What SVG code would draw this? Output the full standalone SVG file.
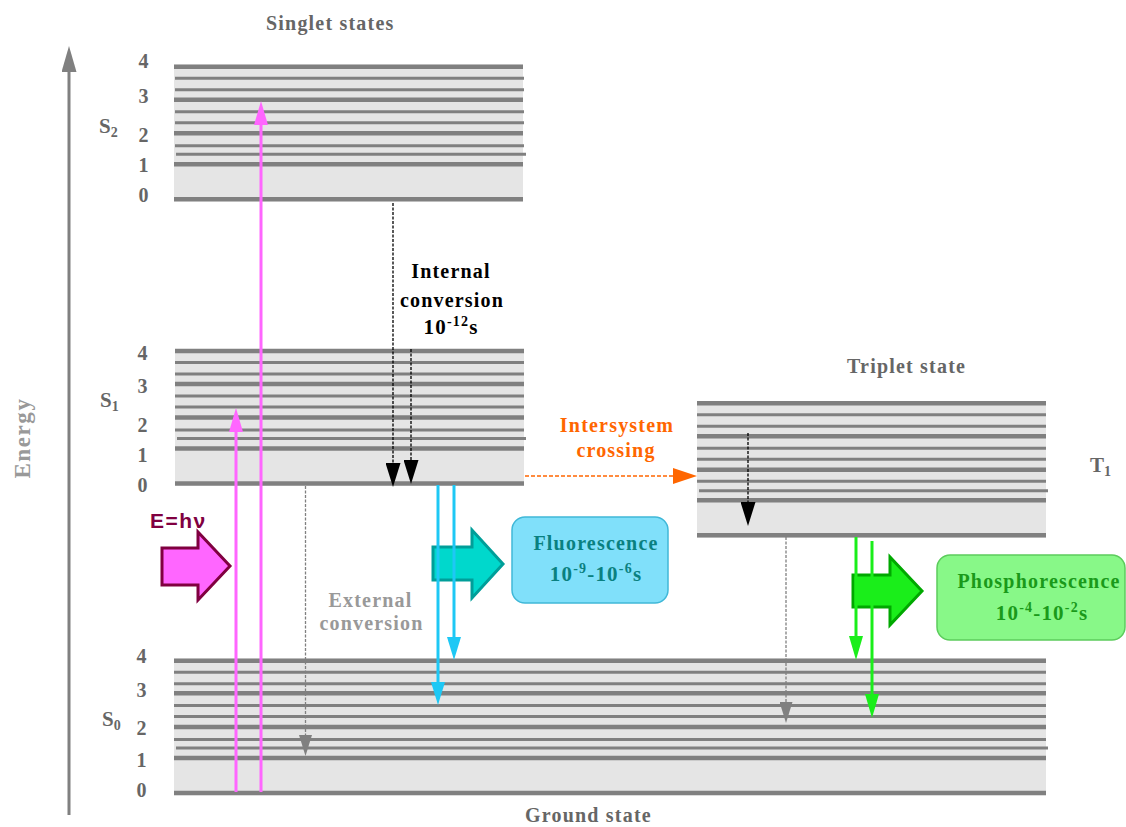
<svg xmlns="http://www.w3.org/2000/svg" width="1126" height="827" viewBox="0 0 1126 827">
<style>
.bg{fill:#e5e5e5}
.thk{stroke:#808080;stroke-width:4.5}
.thn{stroke:#808080;stroke-width:3}
.lbl{font-family:"Liberation Serif","Times New Roman",serif;font-weight:bold;font-size:20px;letter-spacing:1.2px;fill:#666}
.num{font-family:"Liberation Serif","Times New Roman",serif;font-weight:bold;font-size:20px;fill:#666;text-anchor:middle}
.sub{font-size:14px}
.mid{text-anchor:middle}
</style>
<defs>
<marker id="hPink" markerUnits="userSpaceOnUse" viewBox="0 0 24 14" markerWidth="24" markerHeight="14" refX="0" refY="7" orient="auto"><path d="M0,0 L24,7 L0,14z" fill="#ff66ff"/></marker>
<marker id="hCyan" markerUnits="userSpaceOnUse" viewBox="0 0 23 14" markerWidth="23" markerHeight="14" refX="0" refY="7" orient="auto"><path d="M0,0 L23,7 L0,14z" fill="#1ec8f5"/></marker>
<marker id="hGreen" markerUnits="userSpaceOnUse" viewBox="0 0 24 14" markerWidth="24" markerHeight="14" refX="0" refY="7" orient="auto"><path d="M0,0 L24,7 L0,14z" fill="#1aee1a"/></marker>
<marker id="hBlack" markerUnits="userSpaceOnUse" viewBox="0 0 24 15" markerWidth="24" markerHeight="15" refX="0" refY="7.5" orient="auto"><path d="M0,0 L24,7.5 L0,15z" fill="#000"/></marker>
<marker id="hGray" markerUnits="userSpaceOnUse" viewBox="0 0 21 13" markerWidth="21" markerHeight="13" refX="0" refY="6.5" orient="auto"><path d="M0,0 L21,6.5 L0,13z" fill="#808080"/></marker>
<marker id="hOrange" markerUnits="userSpaceOnUse" viewBox="0 0 24 16" markerWidth="24" markerHeight="16" refX="0" refY="8" orient="auto"><path d="M0,0 L24,8 L0,16z" fill="#ff6600"/></marker>
<marker id="hAxis" markerUnits="userSpaceOnUse" viewBox="0 0 26 15" markerWidth="26" markerHeight="15" refX="0" refY="7.5" orient="auto"><path d="M0,0 L26,7.5 L0,15z" fill="#808080"/></marker>
</defs>

<!-- Energy axis -->
<g id="energy-axis">
<line x1="69" y1="815" x2="69" y2="72" stroke="#808080" stroke-width="3" marker-end="url(#hAxis)"/>
<text class="lbl mid" transform="translate(30,438) rotate(-90)" style="font-size:23px;letter-spacing:1.6px;fill:#999">Energy</text>
</g>

<!-- S2 -->
<g id="S2">
<rect class="bg" x="174" y="64.7" width="349" height="136.5"/>
<g>
<line class="thk" x1="174" x2="523" y1="66.7" y2="66.7"/>
<line class="thn" x1="175" x2="524" y1="78.2" y2="78.2"/>
<line class="thn" x1="175" x2="524" y1="89.7" y2="89.7"/>
<line class="thk" x1="174" x2="523" y1="99.7" y2="99.7"/>
<line class="thn" x1="175" x2="524" y1="111.7" y2="111.7"/>
<line class="thn" x1="175" x2="524" y1="122.7" y2="122.7"/>
<line class="thk" x1="174" x2="523" y1="133.2" y2="133.2"/>
<line class="thn" x1="175" x2="524" y1="145.7" y2="145.7"/>
<line class="thn" x1="176" x2="526" y1="154.2" y2="154.2"/>
<line class="thk" x1="174" x2="523" y1="164.2" y2="164.2"/>
<line class="thk" x1="174" x2="523" y1="199.2" y2="199.2"/>
</g>
<text class="num" x="143.5" y="68">4</text>
<text class="num" x="143.5" y="103">3</text>
<text class="num" x="143.5" y="142">2</text>
<text class="num" x="143.5" y="171.5">1</text>
<text class="num" x="143.5" y="201.5">0</text>
<text class="lbl" x="99" y="133" style="letter-spacing:0;font-size:21px">S<tspan class="sub" dy="4">2</tspan></text>
</g>

<!-- S1 -->
<g id="S1">
<rect class="bg" x="175" y="349" width="349" height="136.5"/>
<g>
<line class="thk" x1="175" x2="524" y1="351" y2="351"/>
<line class="thn" x1="175" x2="524" y1="362.5" y2="362.5"/>
<line class="thn" x1="175" x2="524" y1="374" y2="374"/>
<line class="thk" x1="175" x2="524" y1="384" y2="384"/>
<line class="thn" x1="175" x2="524" y1="396" y2="396"/>
<line class="thn" x1="175" x2="524" y1="407" y2="407"/>
<line class="thk" x1="175" x2="524" y1="417.5" y2="417.5"/>
<line class="thn" x1="175" x2="524" y1="430" y2="430"/>
<line class="thn" x1="177" x2="526" y1="438.5" y2="438.5"/>
<line class="thk" x1="175" x2="524" y1="448.5" y2="448.5"/>
<line class="thk" x1="175" x2="524" y1="483.5" y2="483.5"/>
</g>
<text class="num" x="142.5" y="360">4</text>
<text class="num" x="142.5" y="393">3</text>
<text class="num" x="142.5" y="431.5">2</text>
<text class="num" x="142.5" y="461.5">1</text>
<text class="num" x="142.5" y="491.5">0</text>
<text class="lbl" x="100" y="406.5" style="letter-spacing:0;font-size:21px">S<tspan class="sub" dy="4">1</tspan></text>
</g>

<!-- T1 -->
<g id="T1">
<rect class="bg" x="697" y="401.3" width="349" height="136.5"/>
<g>
<line class="thk" x1="697" x2="1046" y1="403.3" y2="403.3"/>
<line class="thn" x1="697" x2="1046" y1="414.8" y2="414.8"/>
<line class="thn" x1="697" x2="1046" y1="426.3" y2="426.3"/>
<line class="thk" x1="697" x2="1046" y1="436.3" y2="436.3"/>
<line class="thn" x1="697" x2="1046" y1="448.3" y2="448.3"/>
<line class="thn" x1="697" x2="1046" y1="459.3" y2="459.3"/>
<line class="thk" x1="697" x2="1046" y1="469.8" y2="469.8"/>
<line class="thn" x1="697" x2="1046" y1="481.3" y2="481.3"/>
<line class="thn" x1="699" x2="1048" y1="490.8" y2="490.8"/>
<line class="thk" x1="697" x2="1046" y1="500.3" y2="500.3"/>
<line class="thk" x1="697" x2="1046" y1="535.3" y2="535.3"/>
</g>
<text class="lbl" x="1090" y="471.5" style="letter-spacing:0;font-size:21px">T<tspan class="sub" dy="4">1</tspan></text>
</g>

<!-- S0 -->
<g id="S0">
<rect class="bg" x="174" y="658.7" width="872" height="136.5"/>
<g>
<line class="thk" x1="174" x2="1046" y1="660.7" y2="660.7"/>
<line class="thn" x1="174" x2="1046" y1="672.2" y2="672.2"/>
<line class="thn" x1="174" x2="1046" y1="683.7" y2="683.7"/>
<line class="thk" x1="174" x2="1046" y1="693.2" y2="693.2"/>
<line class="thn" x1="174" x2="1046" y1="705.5" y2="705.5"/>
<line class="thn" x1="174" x2="1046" y1="716.5" y2="716.5"/>
<line class="thk" x1="174" x2="1046" y1="727" y2="727"/>
<line class="thn" x1="174" x2="1046" y1="739.5" y2="739.5"/>
<line class="thn" x1="176" x2="1048" y1="748" y2="748"/>
<line class="thk" x1="174" x2="1046" y1="758" y2="758"/>
<line class="thk" x1="174" x2="1046" y1="793" y2="793"/>
</g>
<text class="num" x="141.5" y="663">4</text>
<text class="num" x="141.5" y="696.5">3</text>
<text class="num" x="141.5" y="735">2</text>
<text class="num" x="141.5" y="766.5">1</text>
<text class="num" x="141.5" y="796.5">0</text>
<text class="lbl" x="102" y="726" style="letter-spacing:0;font-size:21px">S<tspan class="sub" dy="4">0</tspan></text>
</g>

<!-- titles -->
<g id="titles">
<text class="lbl" x="266" y="30">Singlet states</text>
<text class="lbl" x="847" y="373">Triplet state</text>
<text class="lbl" x="525" y="822">Ground state</text>
</g>

<!-- absorption -->
<g id="absorption">
<polygon points="162,548 198,548 198,532 230,566 198,600 198,585 162,585" fill="#ff66ff" stroke="#800040" stroke-width="3"/>
<text x="150" y="528" style="font-family:'Liberation Sans',Arial,sans-serif;font-weight:bold;font-size:21px;letter-spacing:1.5px;fill:#800040">E=hν</text>
</g>

<!-- fluorescence -->
<g id="fluorescence">
<polygon points="433,547 472,547 472,530 503,564 472,598 472,580 433,580" fill="#00d8cc" stroke="#009e99" stroke-width="3"/>
<rect x="512" y="517" width="156" height="86" rx="13" fill="#80e0fa" stroke="#40b8d8" stroke-width="1.5"/>
<text class="lbl mid" x="596" y="550" style="fill:#0a8080">Fluorescence</text>
<text class="lbl mid" x="596" y="581" style="fill:#0a8080;font-size:21px">10<tspan dy="-8" style="font-size:14px">-9</tspan><tspan dy="8">-10</tspan><tspan dy="-8" style="font-size:14px">-6</tspan><tspan dy="8">s</tspan></text>
</g>

<!-- phosphorescence -->
<g id="phosphorescence">
<polygon points="853,575 890,575 890,557 922,591 890,625 890,607 853,607" fill="#1aee1a" stroke="#00a800" stroke-width="3"/>
<rect x="937" y="555" width="188" height="85" rx="13" fill="#88f888" stroke="#5ccc5c" stroke-width="1.5"/>
<text class="lbl mid" x="1039" y="588" style="fill:#1a9a1a">Phosphorescence</text>
<text class="lbl mid" x="1042" y="620" style="fill:#1a9a1a;font-size:21px">10<tspan dy="-8" style="font-size:14px">-4</tspan><tspan dy="8">-10</tspan><tspan dy="-8" style="font-size:14px">-2</tspan><tspan dy="8">s</tspan></text>
</g>

<!-- process labels -->
<g id="labels">
<text class="lbl mid" x="451" y="278" style="fill:#000">Internal</text>
<text class="lbl mid" x="452" y="307" style="fill:#000">conversion</text>
<text class="lbl mid" x="451" y="334" style="fill:#000;font-size:21px">10<tspan dy="-8" style="font-size:14px">-12</tspan><tspan dy="8">s</tspan></text>
<text class="lbl mid" x="617" y="432" style="fill:#ff6600">Intersystem</text>
<text class="lbl mid" x="616" y="457" style="fill:#ff6600">crossing</text>
<text class="lbl mid" x="370.5" y="607" style="fill:#999">External</text>
<text class="lbl mid" x="371.5" y="630" style="fill:#999">conversion</text>
</g>

<!-- connectors -->
<g id="connectors" fill="none">
<line x1="236" y1="792" x2="236" y2="432" stroke="#ff66ff" stroke-width="3" marker-end="url(#hPink)"/>
<line x1="261" y1="792" x2="261" y2="125" stroke="#ff66ff" stroke-width="3" marker-end="url(#hPink)"/>
<line x1="438" y1="485" x2="438" y2="682" stroke="#1ec8f5" stroke-width="3" marker-end="url(#hCyan)"/>
<line x1="454" y1="485" x2="454" y2="637" stroke="#1ec8f5" stroke-width="3" marker-end="url(#hCyan)"/>
<line x1="856" y1="537" x2="856" y2="636" stroke="#1aee1a" stroke-width="3" marker-end="url(#hGreen)"/>
<line x1="872" y1="541" x2="872" y2="694" stroke="#1aee1a" stroke-width="3" marker-end="url(#hGreen)"/>
<line x1="393" y1="203" x2="393" y2="463" stroke="#000" stroke-width="1.3" stroke-dasharray="3,1.5" marker-end="url(#hBlack)"/>
<line x1="411" y1="349" x2="411" y2="460" stroke="#000" stroke-width="1.3" stroke-dasharray="3,1.5" marker-end="url(#hBlack)"/>
<line x1="748" y1="433" x2="748" y2="502" stroke="#000" stroke-width="1.3" stroke-dasharray="3,1.5" marker-end="url(#hBlack)"/>
<line x1="305.5" y1="486" x2="305.5" y2="735" stroke="#808080" stroke-width="1.3" stroke-dasharray="3,1.5" marker-end="url(#hGray)"/>
<line x1="786" y1="537" x2="786" y2="702" stroke="#808080" stroke-width="1.3" stroke-dasharray="3,1.5" marker-end="url(#hGray)"/>
<line x1="525" y1="476" x2="673" y2="476" stroke="#ff6600" stroke-width="1.5" stroke-dasharray="4,2" marker-end="url(#hOrange)"/>
</g>
</svg>
